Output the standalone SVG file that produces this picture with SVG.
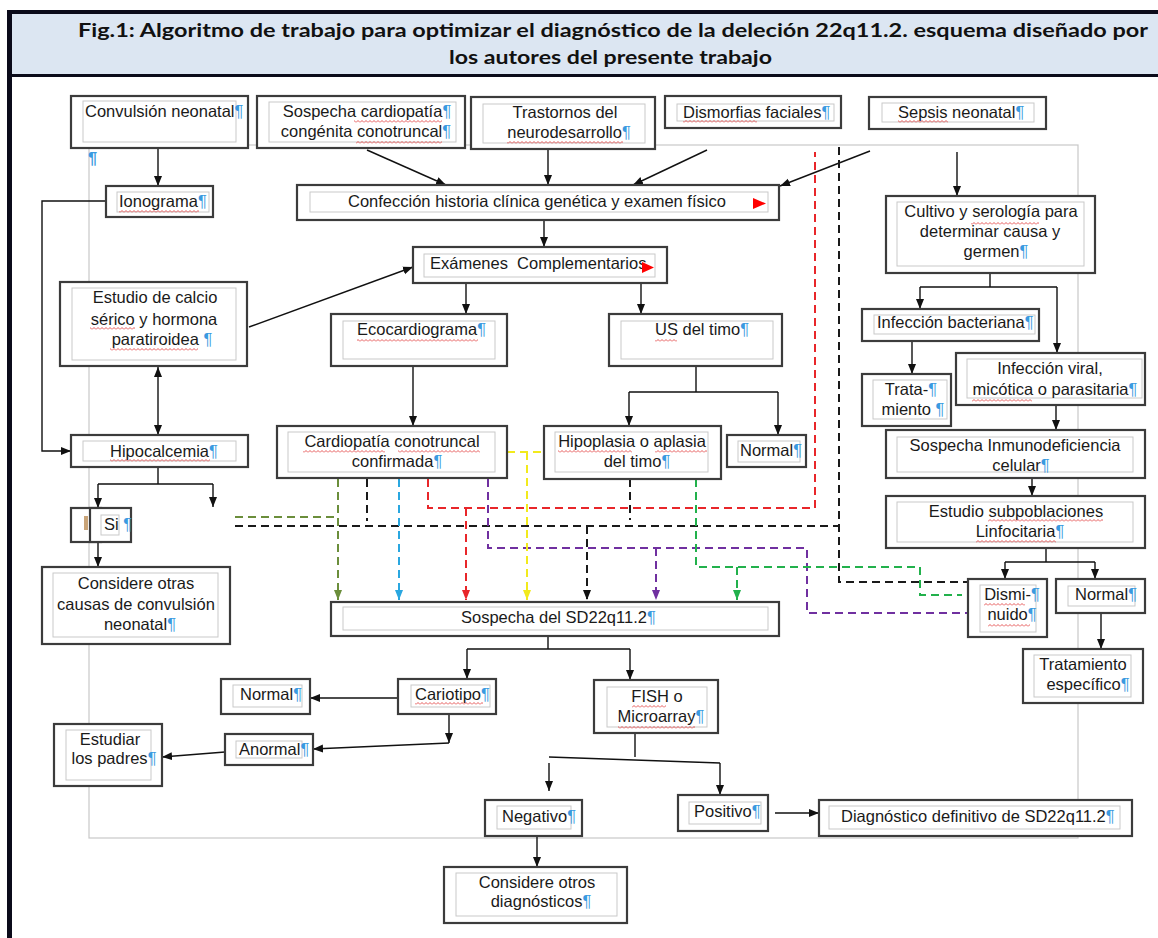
<svg xmlns="http://www.w3.org/2000/svg" width="1158" height="938" viewBox="0 0 1158 938">
<style>
.ob{fill:#fff;stroke:#3c3c3c;stroke-width:2.2}
.ib{fill:#fff;stroke:#c9c9c9;stroke-width:1}
.t{font-family:"Liberation Sans",Arial,sans-serif;font-size:16.5px;fill:#1a1a1a}
.m{text-anchor:middle}
.p{fill:#3a9ae0}
.c{fill:none;stroke:#111;stroke-width:1.4}
.d{fill:none;stroke-width:2;stroke-dasharray:8 5}
.title{font-family:Lato,"Liberation Sans",sans-serif;font-weight:bold;font-size:19.5px;fill:#111}
.sq{fill:url(#sq)}
</style>
<defs>
<marker id="a" markerUnits="userSpaceOnUse" markerWidth="10" markerHeight="10" viewBox="0 0 10 10" refX="10" refY="5" orient="auto"><path d="M0,1 L10,5 L0,9 Z" fill="#111"/></marker>
<marker id="as" markerUnits="userSpaceOnUse" markerWidth="10" markerHeight="10" viewBox="0 0 10 10" refX="10" refY="5" orient="auto-start-reverse"><path d="M0,1 L10,5 L0,9 Z" fill="#111"/></marker>
<marker id="ar" markerUnits="userSpaceOnUse" markerWidth="10" markerHeight="10" viewBox="0 0 10 10" refX="10" refY="5" orient="auto"><path d="M0,1 L10,5 L0,9 Z" fill="#e8262a"/></marker>
<marker id="ak" markerUnits="userSpaceOnUse" markerWidth="10" markerHeight="10" viewBox="0 0 10 10" refX="10" refY="5" orient="auto"><path d="M0,1 L10,5 L0,9 Z" fill="#111"/></marker>
<marker id="ao" markerUnits="userSpaceOnUse" markerWidth="10" markerHeight="10" viewBox="0 0 10 10" refX="10" refY="5" orient="auto"><path d="M0,1 L10,5 L0,9 Z" fill="#6b8e3b"/></marker>
<marker id="ab" markerUnits="userSpaceOnUse" markerWidth="10" markerHeight="10" viewBox="0 0 10 10" refX="10" refY="5" orient="auto"><path d="M0,1 L10,5 L0,9 Z" fill="#2aa7e0"/></marker>
<marker id="ap" markerUnits="userSpaceOnUse" markerWidth="10" markerHeight="10" viewBox="0 0 10 10" refX="10" refY="5" orient="auto"><path d="M0,1 L10,5 L0,9 Z" fill="#7030a0"/></marker>
<marker id="ay" markerUnits="userSpaceOnUse" markerWidth="10" markerHeight="10" viewBox="0 0 10 10" refX="10" refY="5" orient="auto"><path d="M0,1 L10,5 L0,9 Z" fill="#f2ea1c"/></marker>
<marker id="ag" markerUnits="userSpaceOnUse" markerWidth="10" markerHeight="10" viewBox="0 0 10 10" refX="10" refY="5" orient="auto"><path d="M0,1 L10,5 L0,9 Z" fill="#22b14c"/></marker>
<pattern id="sq" width="4" height="3" patternUnits="userSpaceOnUse"><path d="M0,2.5 L2,0.5 L4,2.5" fill="none" stroke="#e03030" stroke-width="0.8"/></pattern>
</defs>

<rect x="0" y="0" width="1158" height="938" fill="#fff"/>
<!-- title band -->
<g id="title">
<rect x="7" y="12" width="1151" height="64" fill="#dce6f2"/>
<rect x="7" y="10" width="1151" height="4" fill="#0b0b1a"/>
<rect x="7" y="74" width="1151" height="3" fill="#0b0b1a"/>
<rect x="7" y="10" width="5" height="928" fill="#0b0b1a"/>
<text class="title" x="78" y="37" textLength="1070" lengthAdjust="spacingAndGlyphs">Fig.1: Algoritmo de trabajo para optimizar el diagnóstico de la deleción 22q11.2. esquema diseñado por</text>
<text class="title" x="449" y="64" textLength="323" lengthAdjust="spacingAndGlyphs">los autores del presente trabajo</text>
</g>

<!-- canvas frame -->
<rect x="89" y="145" width="989" height="693" fill="none" stroke="#c8c8c8" stroke-width="1.2"/>

<!-- connectors -->
<g id="connectors">
<path class="c" d="M158,148 V186" marker-end="url(#a)"/>
<path class="c" d="M106,201 H42 V451 H71" marker-end="url(#a)"/>
<path class="c" d="M367,150 L446,185" marker-end="url(#a)"/>
<path class="c" d="M548,150 V185" marker-end="url(#a)"/>
<path class="c" d="M707,150 L633,185" marker-end="url(#a)"/>
<path class="c" d="M870,151 L780,186" marker-end="url(#a)"/>
<path class="c" d="M451,215 H627"/>
<path class="c" d="M452,276 H627"/>
<path class="c" d="M544,221 V247" marker-end="url(#a)"/>
<path class="c" d="M249,327 L413,267" marker-end="url(#a)"/>
<path class="c" d="M466,283 V314" marker-end="url(#a)"/>
<path class="c" d="M641,283 V314" marker-end="url(#a)"/>
<path class="c" d="M413,366 V426" marker-end="url(#a)"/>
<path class="c" d="M696,366 V392 M629,392 H778"/>
<path class="c" d="M629,392 V426" marker-end="url(#a)"/>
<path class="c" d="M778,392 V435" marker-end="url(#a)"/>
<path class="c" d="M158,367 V435" marker-start="url(#as)" marker-end="url(#a)"/>
<path class="c" d="M158,467 V484 M98,484 H213"/>
<path class="c" d="M98,484 V508" marker-end="url(#a)"/>
<path class="c" d="M213,484 V507" marker-end="url(#a)"/>
<path class="c" d="M98,542 V567" marker-end="url(#a)"/>
<path class="c" d="M957,152 V196" marker-end="url(#a)"/>
<path class="c" d="M990,273 V287 M920,287 H1057"/>
<path class="c" d="M920,287 V309" marker-end="url(#a)"/>
<path class="c" d="M1057,287 V353" marker-end="url(#a)"/>
<path class="c" d="M912,341 V374" marker-end="url(#a)"/>
<path class="c" d="M1056,405 V430" marker-end="url(#a)"/>
<path class="c" d="M1032,478 V496" marker-end="url(#a)"/>
<path class="c" d="M1046,548 V562 M1005,562 H1095"/>
<path class="c" d="M1005,562 V579" marker-end="url(#a)"/>
<path class="c" d="M1095,562 V579" marker-end="url(#a)"/>
<path class="c" d="M1101,613 V649" marker-end="url(#a)"/>
<path class="c" d="M548,636 V649 M467,649 H630"/>
<path class="c" d="M467,649 V679" marker-end="url(#a)"/>
<path class="c" d="M630,649 V680" marker-end="url(#a)"/>
<path class="c" d="M398,698 H310" marker-end="url(#a)"/>
<path class="c" d="M449,714 V743" marker-end="url(#a)"/>
<path class="c" d="M449,743 L313,749" marker-end="url(#a)"/>
<path class="c" d="M225,752 L162,757" marker-end="url(#a)"/>
<path class="c" d="M635,733 V757 M549,757 L720,763"/>
<path class="c" d="M549,763 V791" marker-end="url(#a)"/>
<path class="c" d="M720,763 V795" marker-end="url(#a)"/>
<path class="c" d="M775,813 H819" marker-end="url(#a)"/>
<path class="c" d="M537,836 V867" marker-end="url(#a)"/>

<!-- dashed -->
<path class="d" stroke="#6b8e3b" d="M235,517 H338"/>
<path class="d" stroke="#6b8e3b" d="M338,479 V600" marker-end="url(#ao)"/>
<path class="d" stroke="#1a1a1a" d="M235,526 H839"/>
<path class="d" stroke="#1a1a1a" d="M367,479 V521"/>
<path class="d" stroke="#1a1a1a" d="M630,479 V520"/>
<path class="d" stroke="#1a1a1a" d="M839,147 V582 H968"/>
<path class="d" stroke="#1a1a1a" d="M587,526 V600" marker-end="url(#ak)"/>
<path class="d" stroke="#2aa7e0" d="M399,479 V600" marker-end="url(#ab)"/>
<path class="d" stroke="#e8262a" d="M428,479 V508 H815 V152"/>
<path class="d" stroke="#e8262a" d="M466,508 V600" marker-end="url(#ar)"/>
<path class="d" stroke="#7030a0" d="M488,479 V548 H807 V613 H968"/>
<path class="d" stroke="#7030a0" d="M656,548 V600" marker-end="url(#ap)"/>
<path class="d" stroke="#f2ea1c" d="M507,452 H544"/>
<path class="d" stroke="#f2ea1c" d="M527,452 V600" marker-end="url(#ay)"/>
<path class="d" stroke="#22b14c" d="M696,479 V567 H920 V595 H962"/>
<path class="d" stroke="#22b14c" d="M737,567 V600" marker-end="url(#ag)"/>
</g>

<!-- nodes -->
<g id="n-convulsion"><rect class="ob" x="71" y="96" width="177" height="52"/><rect class="ib" x="83" y="101" width="153" height="41"/>
<text class="t" x="85" y="117">Convulsión neonatal<tspan class="p">¶</tspan></text></g>
<text class="t p" x="88" y="164" font-weight="bold">¶</text>

<g id="n-ionograma"><rect class="ob" x="106" y="186" width="107" height="31"/><rect class="ib" x="117" y="192" width="92" height="20"/>
<text class="t" x="119" y="207">Ionograma<tspan class="p">¶</tspan></text><rect class="sq" x="119" y="210" width="80" height="3"/></g>

<g id="n-sospecha-cardio"><rect class="ob" x="257" y="96" width="208" height="52"/><rect class="ib" x="269" y="102" width="187" height="40"/>
<text class="t m" x="367" y="117">Sospecha cardiopatía<tspan class="p">¶</tspan></text>
<text class="t m" x="366" y="137">congénita conotruncal<tspan class="p">¶</tspan></text>
<rect class="sq" x="354" y="120" width="88" height="3"/><rect class="sq" x="356" y="141" width="86" height="3"/></g>

<g id="n-trastornos"><rect class="ob" x="471" y="97" width="184" height="52"/><rect class="ib" x="483" y="104" width="162" height="39"/>
<text class="t m" x="565" y="118">Trastornos del</text>
<text class="t m" x="569" y="138">neurodesarrollo<tspan class="p">¶</tspan></text>
<rect class="sq" x="507" y="141" width="116" height="3"/></g>

<g id="n-dismorfias"><rect class="ob" x="665" y="96" width="176" height="32"/><rect class="ib" x="677" y="104" width="157" height="17"/>
<text class="t" x="683" y="118">Dismorfias faciales<tspan class="p">¶</tspan></text>
<rect class="sq" x="683" y="120" width="74" height="3"/></g>

<g id="n-sepsis"><rect class="ob" x="869" y="97" width="177" height="32"/><rect class="ib" x="882" y="103" width="152" height="19"/>
<text class="t" x="898" y="118">Sepsis neonatal<tspan class="p">¶</tspan></text>
<rect class="sq" x="898" y="120" width="50" height="3"/></g>

<g id="n-confeccion"><rect class="ob" x="297" y="185" width="482" height="35"/><rect class="ib" x="310" y="192" width="458" height="20"/>
<text class="t" x="348" y="207">Confección historia clínica genética y examen físico</text>
<path d="M753,198 L766,203.5 L753,209 Z" fill="#ff0000"/></g>

<g id="n-examenes"><rect class="ob" x="413" y="247" width="254" height="36"/><rect class="ib" x="424" y="254" width="231" height="23"/>
<text class="t" x="430" y="269" style="white-space:pre">Exámenes  Complementarios</text>
<path d="M642,262 L654,267.5 L642,273 Z" fill="#ff0000"/></g>

<g id="n-eco"><rect class="ob" x="331" y="314" width="176" height="52"/><rect class="ib" x="343" y="321" width="152" height="38"/>
<text class="t" x="357" y="335">Ecocardiograma<tspan class="p">¶</tspan></text>
<rect class="sq" x="357" y="339" width="121" height="3"/></g>

<g id="n-us"><rect class="ob" x="609" y="314" width="173" height="52"/><rect class="ib" x="621" y="321" width="152" height="38"/>
<text class="t" x="655" y="335">US del timo<tspan class="p">¶</tspan></text>
<rect class="sq" x="655" y="339" width="22" height="3"/></g>

<g id="n-calcio"><rect class="ob" x="60" y="282" width="187" height="84"/><rect class="ib" x="72" y="288" width="164" height="72"/>
<text class="t m" x="155" y="303">Estudio de calcio</text>
<text class="t m" x="154" y="325">sérico y hormona</text>
<text class="t m" x="162" y="345">paratiroidea <tspan class="p">¶</tspan></text>
<rect class="sq" x="90" y="327" width="45" height="3"/><rect class="sq" x="110" y="348" width="88" height="3"/></g>

<g id="n-hipocalcemia"><rect class="ob" x="71" y="435" width="177" height="32"/><rect class="ib" x="83" y="441" width="153" height="20"/>
<text class="t" x="110" y="457">Hipocalcemia<tspan class="p">¶</tspan></text>
<rect class="sq" x="110" y="459" width="100" height="3"/></g>

<g id="n-si"><rect class="ob" x="71" y="508" width="30" height="34"/><rect x="84" y="516" width="4" height="14" fill="#c9a478"/>
<rect class="ob" x="90" y="508" width="41" height="34"/><rect class="ib" x="101" y="515" width="18" height="20"/>
<text class="t" x="104" y="530">Si <tspan class="p">¶</tspan></text></g>

<g id="n-considere-otras"><rect class="ob" x="42" y="567" width="188" height="77"/><rect class="ib" x="53" y="573" width="165" height="64"/>
<text class="t m" x="136" y="589">Considere otras</text>
<text class="t m" x="136" y="610">causas de convulsión</text>
<text class="t m" x="140" y="630">neonatal<tspan class="p">¶</tspan></text></g>

<g id="n-cardiopatia"><rect class="ob" x="277" y="426" width="230" height="52"/><rect class="ib" x="288" y="432" width="207" height="40"/>
<text class="t m" x="392" y="447">Cardiopatía conotruncal</text>
<text class="t m" x="397" y="467">confirmada<tspan class="p">¶</tspan></text>
<rect class="sq" x="303" y="450" width="82" height="3"/><rect class="sq" x="398" y="450" width="82" height="3"/></g>

<g id="n-hipoplasia"><rect class="ob" x="544" y="426" width="177" height="53"/><rect class="ib" x="555" y="432" width="153" height="40"/>
<text class="t m" x="632" y="447">Hipoplasia o aplasia</text>
<text class="t m" x="637" y="467">del timo<tspan class="p">¶</tspan></text>
<rect class="sq" x="558" y="450" width="74" height="3"/><rect class="sq" x="655" y="450" width="52" height="3"/></g>

<g id="n-normal-timo"><rect class="ob" x="727" y="435" width="79" height="32"/><rect class="ib" x="738" y="441" width="62" height="21"/>
<text class="t" x="740" y="456">Normal<tspan class="p">¶</tspan></text></g>

<g id="n-cultivo"><rect class="ob" x="886" y="196" width="209" height="77"/><rect class="ib" x="897" y="202" width="187" height="64"/>
<text class="t m" x="991" y="217">Cultivo y serología para</text>
<text class="t m" x="990" y="237">determinar causa y</text>
<text class="t m" x="996" y="257">germen<tspan class="p">¶</tspan></text>
<rect class="sq" x="971" y="222" width="68" height="3"/></g>

<g id="n-bacteriana"><rect class="ob" x="862" y="309" width="177" height="32"/><rect class="ib" x="874" y="315" width="161" height="19"/>
<text class="t" x="877" y="328">Infección bacteriana<tspan class="p">¶</tspan></text></g>

<g id="n-tratamiento1"><rect class="ob" x="862" y="374" width="89" height="52"/><rect class="ib" x="873" y="380" width="74" height="39"/>
<text class="t m" x="911" y="395">Trata-<tspan class="p">¶</tspan></text>
<text class="t m" x="913" y="415">miento <tspan class="p">¶</tspan></text></g>

<g id="n-viral"><rect class="ob" x="956" y="353" width="189" height="52"/><rect class="ib" x="967" y="359" width="175" height="39"/>
<text class="t m" x="1050" y="374">Infección viral,</text>
<text class="t m" x="1055" y="395">micótica o parasitaria<tspan class="p">¶</tspan></text>
<rect class="sq" x="972" y="399" width="60" height="3"/></g>

<g id="n-inmuno"><rect class="ob" x="886" y="430" width="259" height="48"/><rect class="ib" x="897" y="437" width="236" height="35"/>
<text class="t m" x="1015" y="451">Sospecha Inmunodeficiencia</text>
<text class="t m" x="1021" y="471">celular<tspan class="p">¶</tspan></text></g>

<g id="n-subpoblaciones"><rect class="ob" x="886" y="496" width="259" height="52"/><rect class="ib" x="897" y="502" width="236" height="40"/>
<text class="t m" x="1016" y="517">Estudio subpoblaciones</text>
<text class="t m" x="1020" y="537">Linfocitaria<tspan class="p">¶</tspan></text>
<rect class="sq" x="988" y="519" width="115" height="3"/><rect class="sq" x="976" y="540" width="80" height="3"/></g>

<g id="n-disminuido"><rect class="ob" x="968" y="579" width="79" height="58"/><rect class="ib" x="980" y="585" width="56" height="47"/>
<text class="t m" x="1012" y="600">Dismi-<tspan class="p">¶</tspan></text>
<text class="t m" x="1012" y="620">nuido<tspan class="p">¶</tspan></text>
<rect class="sq" x="984" y="603" width="41" height="3"/><rect class="sq" x="988" y="624" width="42" height="3"/></g>

<g id="n-normal-der"><rect class="ob" x="1056" y="579" width="89" height="34"/><rect class="ib" x="1068" y="586" width="67" height="20"/>
<text class="t" x="1075" y="600">Normal<tspan class="p">¶</tspan></text></g>

<g id="n-tratamiento2"><rect class="ob" x="1023" y="649" width="120" height="54"/><rect class="ib" x="1034" y="655" width="97" height="42"/>
<text class="t m" x="1083" y="670">Tratamiento</text>
<text class="t m" x="1088" y="690">específico<tspan class="p">¶</tspan></text></g>

<g id="n-sospecha-sd"><rect class="ob" x="331" y="602" width="448" height="34"/><rect class="ib" x="343" y="607" width="425" height="23"/>
<text class="t" x="461" y="623">Sospecha del SD22q11.2<tspan class="p">¶</tspan></text></g>

<g id="n-cariotipo"><rect class="ob" x="398" y="679" width="98" height="35"/><rect class="ib" x="411" y="685" width="79" height="22"/>
<text class="t" x="415" y="700">Cariotipo<tspan class="p">¶</tspan></text>
<rect class="sq" x="415" y="702" width="68" height="3"/></g>

<g id="n-fish"><rect class="ob" x="594" y="680" width="124" height="53"/><rect class="ib" x="607" y="687" width="100" height="40"/>
<text class="t m" x="657" y="702">FISH o</text>
<text class="t m" x="661" y="722">Microarray<tspan class="p">¶</tspan></text>
<rect class="sq" x="632" y="705" width="34" height="3"/><rect class="sq" x="618" y="726" width="77" height="3"/></g>

<g id="n-normal-izq"><rect class="ob" x="221" y="679" width="89" height="35"/><rect class="ib" x="233" y="685" width="69" height="22"/>
<text class="t" x="240" y="700">Normal<tspan class="p">¶</tspan></text></g>

<g id="n-anormal"><rect class="ob" x="225" y="734" width="88" height="31"/><rect class="ib" x="236" y="741" width="66" height="17"/>
<text class="t" x="239" y="755">Anormal<tspan class="p">¶</tspan></text></g>

<g id="n-padres"><rect class="ob" x="54" y="724" width="108" height="62"/><rect class="ib" x="66" y="730" width="85" height="50"/>
<text class="t m" x="110" y="745">Estudiar</text>
<text class="t m" x="114" y="764">los padres<tspan class="p">¶</tspan></text></g>

<g id="n-negativo"><rect class="ob" x="485" y="800" width="97" height="36"/><rect class="ib" x="497" y="806" width="74" height="23"/>
<text class="t" x="502" y="822">Negativo<tspan class="p">¶</tspan></text></g>

<g id="n-positivo"><rect class="ob" x="678" y="795" width="90" height="36"/><rect class="ib" x="689" y="802" width="72" height="22"/>
<text class="t" x="694" y="817">Positivo<tspan class="p">¶</tspan></text></g>

<g id="n-diagnostico"><rect class="ob" x="819" y="800" width="313" height="36"/><rect class="ib" x="829" y="806" width="291" height="23"/>
<text class="t" x="841" y="822">Diagnóstico definitivo de SD22q11.2<tspan class="p">¶</tspan></text></g>

<g id="n-considere-diag"><rect class="ob" x="444" y="867" width="183" height="56"/><rect class="ib" x="456" y="873" width="161" height="43"/>
<text class="t m" x="537" y="888">Considere otros</text>
<text class="t m" x="541" y="907">diagnósticos<tspan class="p">¶</tspan></text></g>
</svg>
